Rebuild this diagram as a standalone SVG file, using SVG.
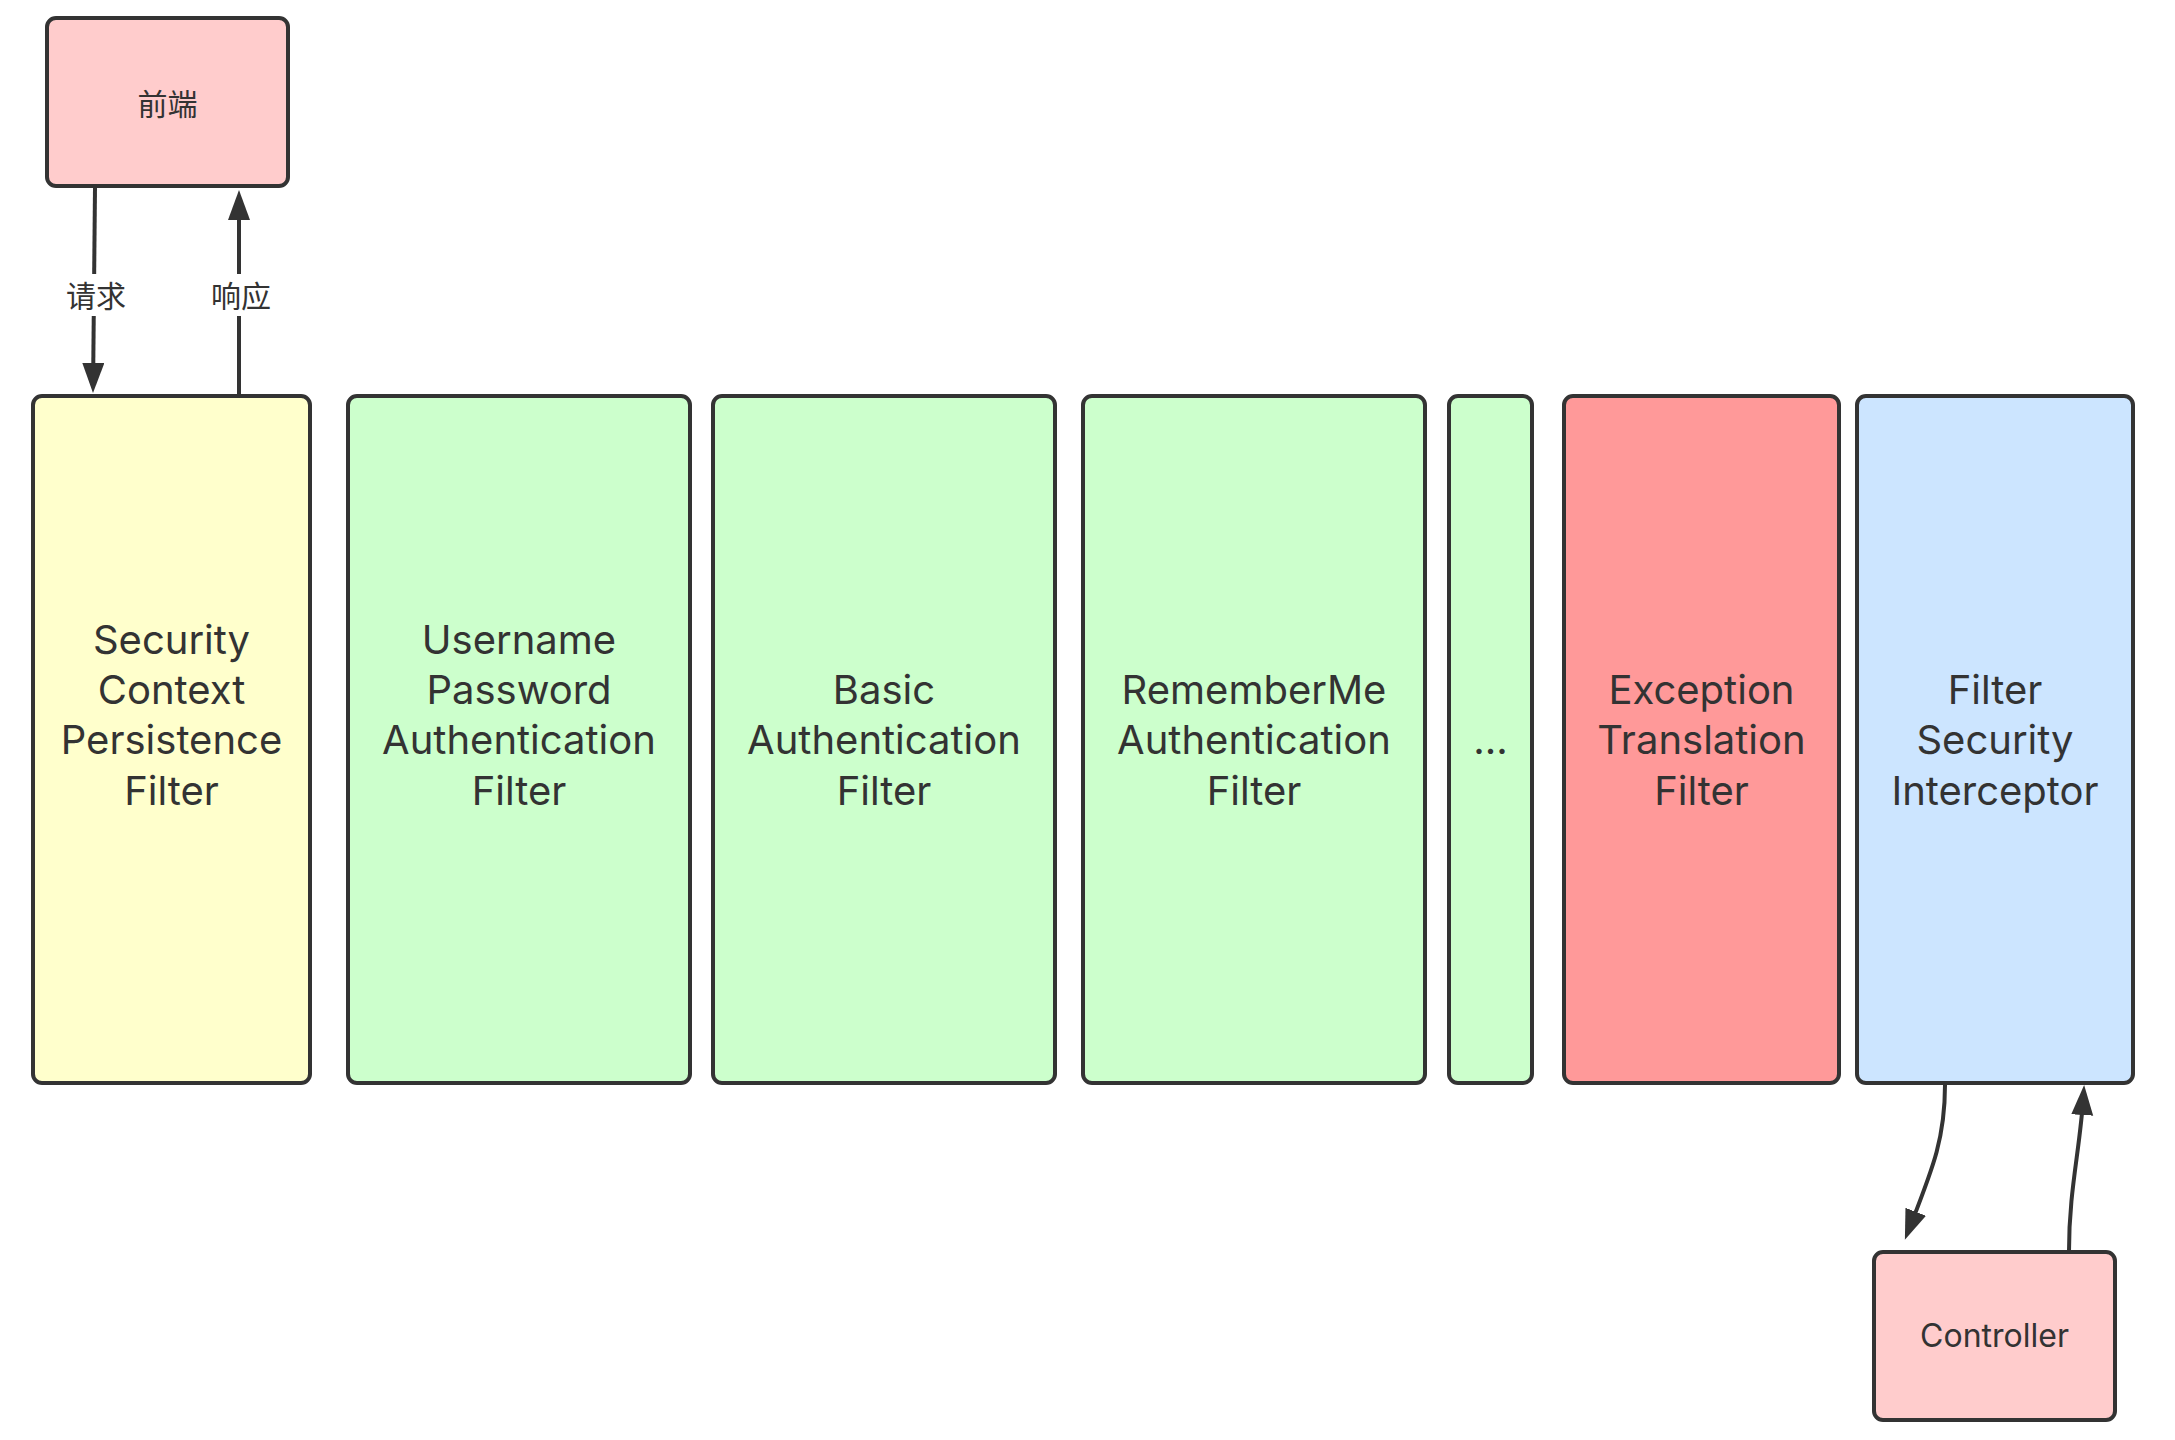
<svg xmlns="http://www.w3.org/2000/svg" width="2175" height="1440" viewBox="0 0 2175 1440">
<style>
.box{stroke:#333333;stroke-width:4;}
.t{font-family:Inter,"Open Sans","Noto Sans CJK SC",sans-serif;fill:#333333;text-anchor:middle;}
.big{font-size:40px;}
.small{font-size:32px;}
.cn{font-family:"Open Sans","Noto Sans CJK SC",sans-serif;font-size:30px;fill:#333333;text-anchor:middle;}
.edge{fill:none;stroke:#333333;stroke-width:4;marker-end:url(#arr);}
</style>
<defs>
<marker id="arr" markerUnits="userSpaceOnUse" markerWidth="32" markerHeight="24" refX="20" refY="11" orient="auto">
<path d="M0,0 L30,11 L0,22 Z" fill="#333333"/>
</marker>
</defs>
<rect width="2175" height="1440" fill="#ffffff"/>
<g id="connectors">
<path class="edge" d="M95,188 L93.1,383"/>
<path class="edge" d="M239,394 L239,200"/>
<path class="edge" d="M1945,1085 C1945,1140 1932,1170 1908.5,1230.5"/>
<path class="edge" d="M2069,1251 C2069,1190 2080,1150 2083.5,1095"/>
<rect x="62" y="274" width="66" height="42" fill="#ffffff"/>
<text class="cn" x="96" y="307">请求</text>
<rect x="208" y="274" width="66" height="42" fill="#ffffff"/>
<text class="cn" x="241" y="307">响应</text>
</g>
<g id="frontend">
<rect class="box" x="47" y="18" width="241" height="168" rx="9" fill="#FFCCCC"/>
<text class="cn" x="167.5" y="115">前端</text>
</g>
<g id="security-context">
<rect class="box" x="33" y="396" width="277" height="687" rx="9" fill="#FFFFCC"/>
<text class="t big" x="171.5" y="654"><tspan x="171.5">Security</tspan><tspan x="171.5" dy="50">Context</tspan><tspan x="171.5" dy="50">Persistence</tspan><tspan x="171.5" dy="51">Filter</tspan></text>
</g>
<g id="username-password">
<rect class="box" x="348" y="396" width="342" height="687" rx="9" fill="#CCFFCC"/>
<text class="t big" x="519" y="654"><tspan x="519">Username</tspan><tspan x="519" dy="50">Password</tspan><tspan x="519" dy="50">Authentication</tspan><tspan x="519" dy="51">Filter</tspan></text>
</g>
<g id="basic-auth">
<rect class="box" x="713" y="396" width="342" height="687" rx="9" fill="#CCFFCC"/>
<text class="t big" x="884" y="704"><tspan x="884">Basic</tspan><tspan x="884" dy="50">Authentication</tspan><tspan x="884" dy="51">Filter</tspan></text>
</g>
<g id="rememberme">
<rect class="box" x="1083" y="396" width="342" height="687" rx="9" fill="#CCFFCC"/>
<text class="t big" x="1254" y="704"><tspan x="1254">RememberMe</tspan><tspan x="1254" dy="50">Authentication</tspan><tspan x="1254" dy="51">Filter</tspan></text>
</g>
<g id="more">
<rect class="box" x="1449" y="396" width="83" height="687" rx="9" fill="#CCFFCC"/>
<text class="t big" x="1490.5" y="754">...</text>
</g>
<g id="exception-translation">
<rect class="box" x="1564" y="396" width="275" height="687" rx="9" fill="#FF9999"/>
<text class="t big" x="1701.5" y="704"><tspan x="1701.5">Exception</tspan><tspan x="1701.5" dy="50">Translation</tspan><tspan x="1701.5" dy="51">Filter</tspan></text>
</g>
<g id="filter-security-interceptor">
<rect class="box" x="1857" y="396" width="276" height="687" rx="9" fill="#CCE5FF"/>
<text class="t big" x="1995" y="704"><tspan x="1995">Filter</tspan><tspan x="1995" dy="50">Security</tspan><tspan x="1995" dy="51">Interceptor</tspan></text>
</g>
<g id="controller">
<rect class="box" x="1874" y="1252" width="241" height="168" rx="9" fill="#FFCCCC"/>
<text class="t small" x="1994.5" y="1347">Controller</text>
</g>
</svg>
